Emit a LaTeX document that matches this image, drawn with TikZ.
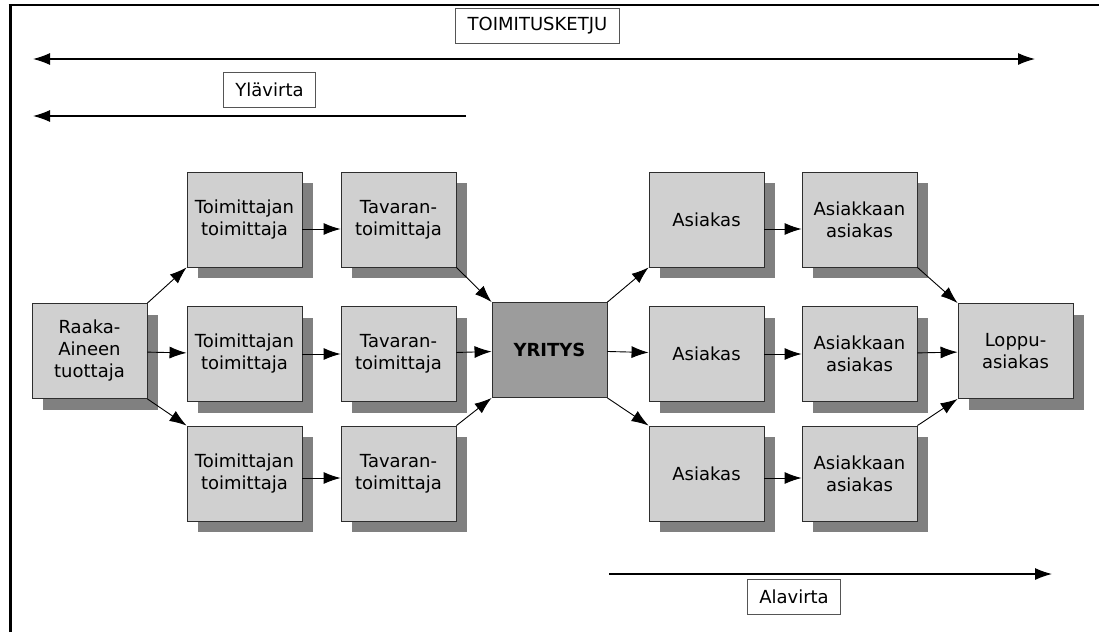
\documentclass[tikz,border=0pt]{standalone}
\usepackage{fontspec}
\setmainfont{DejaVu Sans}
\usepackage{tikz}
\usetikzlibrary{arrows.meta,shadows}
\definecolor{boxgray}{HTML}{D0D0D0}
\definecolor{shadegray}{HTML}{808080}
\definecolor{coregray}{HTML}{9C9C9C}
\definecolor{edgegray}{HTML}{2E2E2E}
\definecolor{labelgray}{HTML}{555555}
\newcommand\chainfont{\fontsize{18pt}{22pt}\selectfont}
\tikzset{
  chainbox/.style={draw=edgegray,line width=0.9pt,fill=boxgray,minimum width=115pt,minimum height=95pt,inner sep=2pt,align=center,font=\chainfont,
    general shadow={fill=shadegray,shadow xshift=11pt,shadow yshift=-11pt}},
  corebox/.style={draw=edgegray,line width=0.9pt,fill=coregray,minimum width=115pt,minimum height=95pt,font=\chainfont\bfseries},
  flowlabel/.style={draw=labelgray,line width=0.8pt,fill=white,minimum height=35pt,inner xsep=12pt,font=\chainfont},
  flowarrow/.style={-{Latex[length=17pt,width=12pt]},draw=black,line width=0.9pt},
  spanarrow/.style={{Latex[length=17pt,width=12pt]}-{Latex[length=17pt,width=12pt]},draw=black,line width=1.2pt},
}
\begin{document}
\begin{tikzpicture}[x=1pt,y=-1pt]
    \useasboundingbox (0,0) rectangle (1099,632);
    % frame
    \draw[line width=3pt] (10,632) -- (10,4);
    \draw[line width=2.2pt] (8.5,5) -- (1099,5);
    % upper labels and spans
    \node[flowlabel] (chain) at (537.5,26) {TOIMITUSKETJU};
    \coordinate (chainL) at (33,59);
    \coordinate (chainR) at (1035,59);
    \draw[spanarrow] (chainL) -- (chainR);
    \node[flowlabel] (up) at (269.5,89.5) {Ylävirta};
    \coordinate (upS) at (466,116);
    \coordinate (upE) at (33,116);
    \draw[flowarrow,line width=1.2pt] (upS) -- (upE);
    % supply side
    \node[chainbox] (raw) at (89.5,351) {Raaka-\\Aineen\\tuottaja};
    \node[chainbox] (sub1) at (244.5,219.5) {Toimittajan\\toimittaja};
    \node[chainbox] (sub2) at (244.5,354) {Toimittajan\\toimittaja};
    \node[chainbox] (sub3) at (244.5,473.5) {Toimittajan\\toimittaja};
    \node[chainbox] (sup1) at (398.5,219.5) {Tavaran-\\toimittaja};
    \node[chainbox] (sup2) at (398.5,354) {Tavaran-\\toimittaja};
    \node[chainbox] (sup3) at (398.5,473.5) {Tavaran-\\toimittaja};
    \node[corebox] (firm) at (549.5,350) {YRITYS};
    % demand side
    \node[chainbox] (cus1) at (706.5,219.5) {Asiakas};
    \node[chainbox] (cus2) at (706.5,354) {Asiakas};
    \node[chainbox] (cus3) at (706.5,473.5) {Asiakas};
    \node[chainbox] (ccus1) at (859.5,219.5) {Asiakkaan\\asiakas};
    \node[chainbox] (ccus2) at (859.5,354) {Asiakkaan\\asiakas};
    \node[chainbox] (ccus3) at (859.5,473.5) {Asiakkaan\\asiakas};
    \node[chainbox] (end) at (1015.5,351) {Loppu-\\asiakas};
    % connectors
    \draw[flowarrow] (raw.north east) -- (sub1.south west);
    \draw[flowarrow] (raw) -- (sub2);
    \draw[flowarrow] (raw.south east) -- (sub3.north west);
    \draw[flowarrow] ([yshift=-9.5pt]sub1.east) -- ([yshift=-9.5pt]sup1.west);
    \draw[flowarrow] (sub2) -- (sup2);
    \draw[flowarrow] ([yshift=-4.5pt]sub3.east) -- ([yshift=-4.5pt]sup3.west);
    \draw[flowarrow] (sup1.south east) -- (firm.north west);
    \draw[flowarrow] (sup2) -- (firm);
    \draw[flowarrow] (sup3.north east) -- (firm.south west);
    \draw[flowarrow] (firm.north east) -- (cus1.south west);
    \draw[flowarrow] (firm) -- (cus2);
    \draw[flowarrow] (firm.south east) -- (cus3.north west);
    \draw[flowarrow] ([yshift=-9.5pt]cus1.east) -- ([yshift=-9.5pt]ccus1.west);
    \draw[flowarrow] (cus2) -- (ccus2);
    \draw[flowarrow] ([yshift=-4.5pt]cus3.east) -- ([yshift=-4.5pt]ccus3.west);
    \draw[flowarrow] (ccus1.south east) -- (end.north west);
    \draw[flowarrow] (ccus2) -- (end);
    \draw[flowarrow] (ccus3.north east) -- (end.south west);
    % lower span and label
    \coordinate (downS) at (609,574);
    \coordinate (downE) at (1052,574);
    \draw[flowarrow,line width=1.2pt] (downS) -- (downE);
    \node[flowlabel] (down) at (794,596.5) {Alavirta};
\end{tikzpicture}
\end{document}
